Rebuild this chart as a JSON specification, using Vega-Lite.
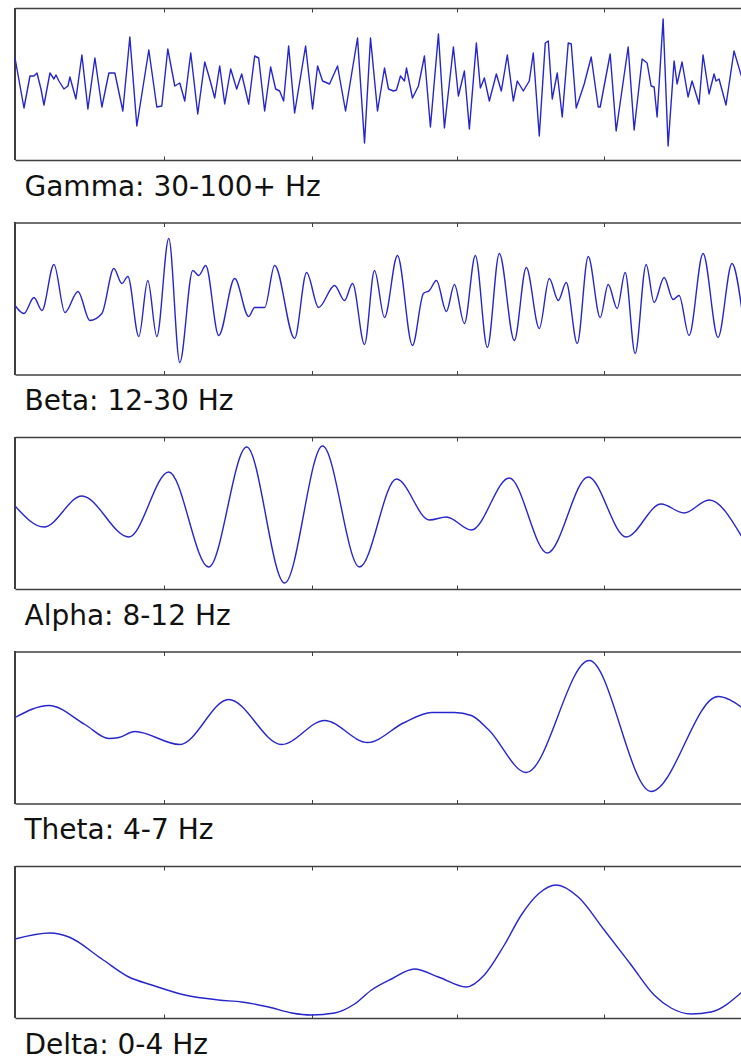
{
  "$schema": "https://vega.github.io/schema/vega-lite/v6.json",
  "background": "white",
  "padding": {"left": 12, "top": 7, "right": 0, "bottom": 0},
  "spacing": 62.5,
  "bounds": "flush",
  "config": {
    "view": {"stroke": null},
    "axis": {"grid": false, "labels": false, "domain": true, "domainColor": "#3f3f3f", "domainWidth": 1.3, "tickColor": "#3f3f3f", "tickWidth": 1, "tickSize": -4, "titleFont": "DejaVu Sans", "titleFontSize": 28, "titleFontWeight": "normal", "titleColor": "#111111"}
  },
  "datasets": {
    "gamma": [{"t":0,"v":26},{"t":9,"v":-24},{"t":15,"v":8},{"t":19,"v":8},{"t":22,"v":11},{"t":26,"v":-5},{"t":29,"v":-21},{"t":35,"v":11},{"t":39,"v":5},{"t":41,"v":9},{"t":44,"v":3},{"t":49,"v":-5},{"t":53,"v":-2},{"t":55,"v":7},{"t":61,"v":-15},{"t":67,"v":29},{"t":73,"v":-25},{"t":80,"v":26},{"t":87,"v":-23},{"t":94,"v":11},{"t":100,"v":11},{"t":108,"v":-27},{"t":115,"v":47},{"t":122,"v":-42},{"t":134,"v":34},{"t":142,"v":-23},{"t":147,"v":-22},{"t":153,"v":35},{"t":160,"v":-2},{"t":165,"v":1},{"t":170,"v":-17},{"t":176,"v":31},{"t":183,"v":-30},{"t":190,"v":22},{"t":195,"v":5},{"t":200,"v":-14},{"t":205,"v":18},{"t":210,"v":-20},{"t":216,"v":15},{"t":222,"v":-5},{"t":227,"v":10},{"t":234,"v":-20},{"t":240,"v":28},{"t":244,"v":26},{"t":250,"v":-27},{"t":256,"v":17},{"t":261,"v":-5},{"t":265,"v":-7},{"t":269,"v":-17},{"t":274,"v":38},{"t":280,"v":-29},{"t":291,"v":38},{"t":298,"v":-25},{"t":303,"v":18},{"t":308,"v":3},{"t":315,"v":0},{"t":323,"v":18},{"t":331,"v":-27},{"t":343,"v":46},{"t":350,"v":-59},{"t":356,"v":46},{"t":363,"v":-27},{"t":370,"v":16},{"t":374,"v":-5},{"t":379,"v":-7},{"t":382,"v":-6},{"t":386,"v":8},{"t":390,"v":3},{"t":392,"v":16},{"t":398,"v":-14},{"t":404,"v":-2},{"t":410,"v":28},{"t":416,"v":-43},{"t":424,"v":50},{"t":430,"v":-44},{"t":439,"v":37},{"t":444,"v":-12},{"t":450,"v":13},{"t":455,"v":-45},{"t":462,"v":41},{"t":466,"v":-4},{"t":470,"v":6},{"t":475,"v":-17},{"t":482,"v":10},{"t":487,"v":-7},{"t":493,"v":29},{"t":499,"v":-17},{"t":503,"v":3},{"t":509,"v":-7},{"t":515,"v":3},{"t":519,"v":31},{"t":525,"v":-52},{"t":531,"v":41},{"t":534,"v":43},{"t":538,"v":-15},{"t":543,"v":11},{"t":548,"v":-33},{"t":554,"v":41},{"t":557,"v":40},{"t":562,"v":-24},{"t":570,"v":0},{"t":577,"v":27},{"t":584,"v":-23},{"t":586,"v":-23},{"t":596,"v":30},{"t":602,"v":-47},{"t":614,"v":37},{"t":620,"v":-46},{"t":628,"v":25},{"t":633,"v":21},{"t":637,"v":-2},{"t":640,"v":-3},{"t":643,"v":-33},{"t":649,"v":65},{"t":654,"v":-62},{"t":660,"v":23},{"t":663,"v":0},{"t":668,"v":22},{"t":674,"v":-13},{"t":678,"v":3},{"t":685,"v":-20},{"t":689,"v":29},{"t":695,"v":-10},{"t":700,"v":10},{"t":702,"v":3},{"t":705,"v":5},{"t":712,"v":-21},{"t":720,"v":33},{"t":728,"v":6}],
    "beta": [{"t":0,"v":-7},{"t":9,"v":-15},{"t":19,"v":1},{"t":27,"v":-12},{"t":39,"v":34},{"t":50,"v":-14},{"t":63,"v":7},{"t":75,"v":-22},{"t":87,"v":-15},{"t":99,"v":30},{"t":107,"v":15},{"t":113,"v":22},{"t":124,"v":-38},{"t":133,"v":18},{"t":142,"v":-38},{"t":154,"v":60},{"t":165,"v":-64},{"t":178,"v":28},{"t":184,"v":23},{"t":191,"v":33},{"t":204,"v":-37},{"t":220,"v":20},{"t":234,"v":-18},{"t":240,"v":-9},{"t":250,"v":-9},{"t":260,"v":33},{"t":280,"v":-40},{"t":292,"v":26},{"t":304,"v":-9},{"t":320,"v":13},{"t":330,"v":-2},{"t":338,"v":15},{"t":350,"v":-46},{"t":360,"v":28},{"t":370,"v":-19},{"t":383,"v":43},{"t":398,"v":-47},{"t":409,"v":5},{"t":415,"v":8},{"t":422,"v":18},{"t":432,"v":-13},{"t":440,"v":14},{"t":450,"v":-25},{"t":461,"v":43},{"t":473,"v":-49},{"t":485,"v":45},{"t":500,"v":-42},{"t":512,"v":31},{"t":525,"v":-30},{"t":535,"v":20},{"t":544,"v":-2},{"t":552,"v":16},{"t":563,"v":-45},{"t":574,"v":42},{"t":586,"v":-19},{"t":594,"v":14},{"t":603,"v":-10},{"t":611,"v":26},{"t":621,"v":-55},{"t":632,"v":34},{"t":640,"v":-4},{"t":650,"v":21},{"t":659,"v":-1},{"t":665,"v":3},{"t":675,"v":-37},{"t":689,"v":45},{"t":704,"v":-39},{"t":718,"v":35},{"t":728,"v":-12}],
    "alpha": [{"t":0,"v":7},{"t":29,"v":-14},{"t":67,"v":17},{"t":114,"v":-24},{"t":154,"v":41},{"t":194,"v":-54},{"t":232,"v":66},{"t":270,"v":-70},{"t":308,"v":67},{"t":345,"v":-54},{"t":382,"v":34},{"t":415,"v":-7},{"t":432,"v":-4},{"t":457,"v":-17},{"t":495,"v":35},{"t":533,"v":-40},{"t":574,"v":36},{"t":612,"v":-24},{"t":647,"v":9},{"t":670,"v":0},{"t":695,"v":13},{"t":728,"v":-24}],
    "theta": [{"t":0,"v":10},{"t":34,"v":22},{"t":70,"v":3},{"t":94,"v":-11},{"t":104,"v":-10},{"t":120,"v":-4},{"t":165,"v":-17},{"t":214,"v":28},{"t":267,"v":-17},{"t":310,"v":7},{"t":353,"v":-15},{"t":390,"v":5},{"t":417,"v":15},{"t":440,"v":15},{"t":457,"v":12},{"t":474,"v":-2},{"t":512,"v":-45},{"t":575,"v":67},{"t":637,"v":-64},{"t":704,"v":31},{"t":728,"v":20}],
    "delta": [{"t":0,"v":3},{"t":35,"v":9},{"t":54,"v":5},{"t":87,"v":-17},{"t":114,"v":-35},{"t":137,"v":-43},{"t":170,"v":-53},{"t":204,"v":-58},{"t":227,"v":-60},{"t":254,"v":-65},{"t":277,"v":-71},{"t":297,"v":-73},{"t":320,"v":-71},{"t":340,"v":-62},{"t":357,"v":-48},{"t":377,"v":-37},{"t":400,"v":-27},{"t":424,"v":-35},{"t":452,"v":-45},{"t":470,"v":-33},{"t":490,"v":-3},{"t":507,"v":27},{"t":524,"v":48},{"t":542,"v":57},{"t":564,"v":45},{"t":590,"v":12},{"t":617,"v":-23},{"t":640,"v":-53},{"t":657,"v":-66},{"t":677,"v":-72},{"t":697,"v":-70},{"t":728,"v":-50}]
  },
  "vconcat": [
    {
      "width": 727, "height": 152,
      "data": {"name": "gamma"},
      "layer": [
        {"mark": {"type": "rule", "color": "#3f3f3f", "strokeWidth": 1.3}, "encoding": {"x": {"datum": 0, "axis": null}}},
        {"mark": {"type": "line", "color": "#2626cc", "strokeWidth": 1.4, "interpolate": "linear", "strokeJoin": "round"},
         "encoding": {
           "x": {"field": "t", "type": "quantitative", "scale": {"domain": [0, 728], "nice": false, "zero": false}, "axis": {"orient": "bottom", "values": [149, 297, 443, 590], "title": "Gamma: 30-100+ Hz", "titleX": 9, "titleY": 35, "titleAlign": "left", "titleBaseline": "alphabetic", "titleAngle": 0}},
           "y": {"field": "v", "type": "quantitative", "scale": {"domain": [-76, 76], "nice": false, "zero": false}, "axis": null}
         }},
        {"mark": {"type": "line", "opacity": 0},
         "encoding": {
           "x": {"field": "t", "type": "quantitative", "axis": {"orient": "top", "values": [149, 297, 443, 590], "title": null}},
           "y": {"field": "v", "type": "quantitative", "axis": null}
         }}
      ]
    },
    {
      "width": 727, "height": 152,
      "data": {"name": "beta"},
      "layer": [
        {"mark": {"type": "rule", "color": "#3f3f3f", "strokeWidth": 1.3}, "encoding": {"x": {"datum": 0, "axis": null}}},
        {"mark": {"type": "line", "color": "#2626cc", "strokeWidth": 1.4, "interpolate": "monotone"},
         "encoding": {
           "x": {"field": "t", "type": "quantitative", "scale": {"domain": [0, 728], "nice": false, "zero": false}, "axis": {"orient": "bottom", "values": [149, 297, 443, 590], "title": "Beta: 12-30 Hz", "titleX": 9, "titleY": 35, "titleAlign": "left", "titleBaseline": "alphabetic", "titleAngle": 0}},
           "y": {"field": "v", "type": "quantitative", "scale": {"domain": [-76, 76], "nice": false, "zero": false}, "axis": null}
         }},
        {"mark": {"type": "line", "opacity": 0},
         "encoding": {
           "x": {"field": "t", "type": "quantitative", "axis": {"orient": "top", "values": [149, 297, 443, 590], "title": null}},
           "y": {"field": "v", "type": "quantitative", "axis": null}
         }}
      ]
    },
    {
      "width": 727, "height": 152,
      "data": {"name": "alpha"},
      "layer": [
        {"mark": {"type": "rule", "color": "#3f3f3f", "strokeWidth": 1.3}, "encoding": {"x": {"datum": 0, "axis": null}}},
        {"mark": {"type": "line", "color": "#2626cc", "strokeWidth": 1.4, "interpolate": "monotone"},
         "encoding": {
           "x": {"field": "t", "type": "quantitative", "scale": {"domain": [0, 728], "nice": false, "zero": false}, "axis": {"orient": "bottom", "values": [149, 297, 443, 590], "title": "Alpha: 8-12 Hz", "titleX": 9, "titleY": 35, "titleAlign": "left", "titleBaseline": "alphabetic", "titleAngle": 0}},
           "y": {"field": "v", "type": "quantitative", "scale": {"domain": [-76, 76], "nice": false, "zero": false}, "axis": null}
         }},
        {"mark": {"type": "line", "opacity": 0},
         "encoding": {
           "x": {"field": "t", "type": "quantitative", "axis": {"orient": "top", "values": [149, 297, 443, 590], "title": null}},
           "y": {"field": "v", "type": "quantitative", "axis": null}
         }}
      ]
    },
    {
      "width": 727, "height": 152,
      "data": {"name": "theta"},
      "layer": [
        {"mark": {"type": "rule", "color": "#3f3f3f", "strokeWidth": 1.3}, "encoding": {"x": {"datum": 0, "axis": null}}},
        {"mark": {"type": "line", "color": "#2626cc", "strokeWidth": 1.4, "interpolate": "monotone"},
         "encoding": {
           "x": {"field": "t", "type": "quantitative", "scale": {"domain": [0, 728], "nice": false, "zero": false}, "axis": {"orient": "bottom", "values": [149, 297, 443, 590], "title": "Theta: 4-7 Hz", "titleX": 9, "titleY": 35, "titleAlign": "left", "titleBaseline": "alphabetic", "titleAngle": 0}},
           "y": {"field": "v", "type": "quantitative", "scale": {"domain": [-76, 76], "nice": false, "zero": false}, "axis": null}
         }},
        {"mark": {"type": "line", "opacity": 0},
         "encoding": {
           "x": {"field": "t", "type": "quantitative", "axis": {"orient": "top", "values": [149, 297, 443, 590], "title": null}},
           "y": {"field": "v", "type": "quantitative", "axis": null}
         }}
      ]
    },
    {
      "width": 727, "height": 152,
      "data": {"name": "delta"},
      "layer": [
        {"mark": {"type": "rule", "color": "#3f3f3f", "strokeWidth": 1.3}, "encoding": {"x": {"datum": 0, "axis": null}}},
        {"mark": {"type": "line", "color": "#2626cc", "strokeWidth": 1.4, "interpolate": "monotone"},
         "encoding": {
           "x": {"field": "t", "type": "quantitative", "scale": {"domain": [0, 728], "nice": false, "zero": false}, "axis": {"orient": "bottom", "values": [149, 297, 443, 590], "title": "Delta: 0-4 Hz", "titleX": 9, "titleY": 35, "titleAlign": "left", "titleBaseline": "alphabetic", "titleAngle": 0}},
           "y": {"field": "v", "type": "quantitative", "scale": {"domain": [-76, 76], "nice": false, "zero": false}, "axis": null}
         }},
        {"mark": {"type": "line", "opacity": 0},
         "encoding": {
           "x": {"field": "t", "type": "quantitative", "axis": {"orient": "top", "values": [149, 297, 443, 590], "title": null}},
           "y": {"field": "v", "type": "quantitative", "axis": null}
         }}
      ]
    }
  ]
}
